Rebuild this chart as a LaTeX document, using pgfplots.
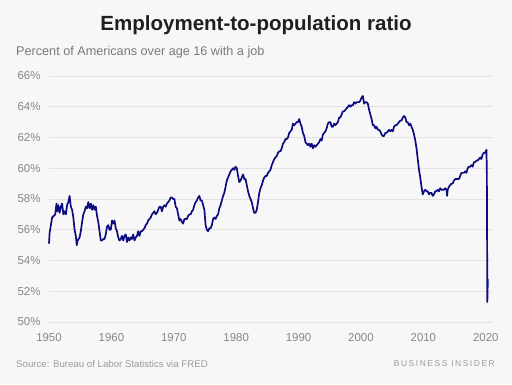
\documentclass[border=0pt]{standalone}
\usepackage{fontspec}
\setmainfont{Liberation Sans}
\usepackage{pgfplots}
\pgfplotsset{compat=1.18}
\definecolor{bg}{HTML}{F7F7F7}
\definecolor{navy}{HTML}{0C0C80}
\definecolor{gridc}{HTML}{E3E3E3}
\definecolor{tickc}{HTML}{878787}
\definecolor{subc}{HTML}{7A7A7A}
\definecolor{srcc}{HTML}{9A9A9A}
\begin{document}
\begin{tikzpicture}[x=1bp,y=1bp]
\fill[bg] (0,0) rectangle (512,384);
\useasboundingbox (0,0) rectangle (512,384);
\node[font=\bfseries\fontsize{20.6}{24}\selectfont, color=black!88] at (256,359) {Employment-to-population ratio};
\node[anchor=west, font=\fontsize{12.7}{15}\selectfont, color=subc, inner sep=0] at (16,332) {Percent of Americans over age 16 with a job};
\node[anchor=west, font=\fontsize{9.7}{12}\selectfont, color=srcc, inner sep=0] at (16,20) {Source: Bureau of Labor Statistics via FRED};
\node[anchor=east, font=\fontsize{8.5}{10}\selectfont\addfontfeatures{LetterSpace=18}, color=srcc, inner sep=0] at (495,20) {BUSINESS INSIDER};
\begin{axis}[at={(49bp,62bp)}, anchor=south west, scale only axis,
  width=443bp, height=246bp,
  xmin=1950, xmax=2021, ymin=50, ymax=66,
  axis line style={draw=none},
  major tick length=0pt,
  xtick={1950,1960,...,2020},
  ytick={50,52,...,66},
  ymajorgrids, grid style={gridc, line width=0.8bp},
  yticklabel={\pgfmathprintnumber{\tick}\%},
  tick label style={font=\fontsize{11.5}{13}\selectfont, color=tickc},
  xticklabel style={yshift=-8bp},
  yticklabel style={xshift=-5bp},
  /pgf/number format/1000 sep={},
  /pgf/number format/assume math mode=true,
  clip=false]
\addplot[navy, line width=1.7bp, line join=round] coordinates {
(1950.0,55.1)(1950.1,55.8)(1950.3,56.3)(1950.5,56.8)(1950.75,56.9)
(1951.0,57.0)(1951.2,57.7)(1951.35,57.2)(1951.5,57.6)(1951.7,57.1)(1951.9,57.5)
(1952.1,57.7)(1952.3,57.0)(1952.5,57.2)(1952.7,57.0)(1952.9,57.6)
(1953.1,57.8)(1953.3,58.2)(1953.5,57.5)(1953.7,57.3)(1953.9,56.8)
(1954.1,56.0)(1954.3,55.6)(1954.45,55.0)(1954.6,55.3)(1954.9,55.5)
(1955.1,55.9)(1955.3,56.5)(1955.5,57.0)(1955.7,57.2)(1955.9,57.5)
(1956.1,57.4)(1956.3,57.8)(1956.5,57.4)(1956.7,57.7)(1956.9,57.3)
(1957.1,57.6)(1957.3,57.3)(1957.5,57.5)(1957.7,56.9)(1957.9,56.5)
(1958.1,55.9)(1958.3,55.3)(1958.5,55.3)(1958.7,55.4)(1958.9,55.4)
(1959.1,55.7)(1959.3,56.2)(1959.5,56.3)(1959.7,56.0)(1959.9,56.0)
(1960.1,56.6)(1960.3,56.4)(1960.5,56.6)(1960.7,56.1)(1960.9,55.9)
(1961.1,55.5)(1961.3,55.3)(1961.5,55.4)(1961.7,55.6)(1961.9,55.3)
(1962.1,55.6)(1962.3,55.7)(1962.5,55.2)(1962.7,55.5)(1962.9,55.3)
(1963.1,55.5)(1963.3,55.4)(1963.5,55.7)(1963.7,55.3)(1963.9,55.5)
(1964.1,55.6)(1964.3,55.9)(1964.5,55.6)(1964.7,55.9)(1964.9,55.9)
(1965.1,56.0)(1965.3,56.1)(1965.5,56.3)(1965.7,56.4)(1965.9,56.6)
(1966.1,56.7)(1966.3,56.8)(1966.5,57.0)(1966.7,57.1)(1966.9,57.2)
(1967.1,57.0)(1967.3,57.1)(1967.5,57.3)(1967.7,57.5)(1967.9,57.5)
(1968.1,57.2)(1968.3,57.5)(1968.5,57.6)(1968.7,57.5)(1968.9,57.7)
(1969.1,57.8)(1969.3,57.9)(1969.5,58.1)(1969.7,58.1)(1969.9,58.0)
(1970.1,58.0)(1970.3,57.5)(1970.5,57.4)(1970.7,57.0)(1970.9,56.6)
(1971.1,56.7)(1971.3,56.5)(1971.5,56.4)(1971.7,56.7)(1971.9,56.7)
(1972.1,56.7)(1972.3,56.9)(1972.5,57.0)(1972.7,57.0)(1972.9,57.2)
(1973.1,57.3)(1973.3,57.6)(1973.5,57.8)(1973.7,57.9)(1973.9,58.1)
(1974.1,58.2)(1974.3,57.9)(1974.5,57.9)(1974.7,57.6)(1974.9,57.3)
(1975.1,56.3)(1975.3,56.0)(1975.5,55.9)(1975.7,56.1)(1975.9,56.1)
(1976.1,56.3)(1976.3,56.7)(1976.5,56.8)(1976.7,56.7)(1976.9,56.9)
(1977.1,57.0)(1977.3,57.4)(1977.5,57.6)(1977.7,57.9)(1977.9,58.2)
(1978.1,58.4)(1978.3,58.8)(1978.5,59.2)(1978.7,59.4)(1978.9,59.6)
(1979.1,59.8)(1979.3,59.9)(1979.5,60.0)(1979.7,59.9)(1979.9,60.1)
(1980.1,60.0)(1980.3,59.5)(1980.5,59.1)(1980.7,59.2)(1980.9,59.4)
(1981.1,59.6)(1981.3,59.3)(1981.5,59.3)(1981.7,58.9)(1981.9,58.5)
(1982.1,58.2)(1982.3,58.0)(1982.5,57.8)(1982.7,57.4)(1982.9,57.1)
(1983.1,57.1)(1983.3,57.3)(1983.5,57.8)(1983.7,58.4)(1983.9,58.7)
(1984.1,58.9)(1984.3,59.2)(1984.5,59.4)(1984.7,59.5)(1984.9,59.5)
(1985.1,59.7)(1985.3,59.8)(1985.5,59.9)(1985.7,60.2)(1985.9,60.4)
(1986.1,60.6)(1986.3,60.7)(1986.5,60.8)(1986.7,61.0)(1986.9,61.1)
(1987.1,61.1)(1987.3,61.3)(1987.5,61.6)(1987.7,61.7)(1987.9,61.9)
(1988.1,61.9)(1988.3,62.0)(1988.5,62.3)(1988.7,62.4)(1988.9,62.5)
(1989.1,62.9)(1989.3,62.8)(1989.5,62.9)(1989.7,63.0)(1989.9,63.0)
(1990.1,63.2)(1990.3,62.9)(1990.5,62.7)(1990.7,62.3)(1990.9,62.1)
(1991.1,61.7)(1991.3,61.6)(1991.5,61.5)(1991.7,61.6)(1991.9,61.4)
(1992.1,61.6)(1992.3,61.3)(1992.5,61.5)(1992.7,61.4)(1992.9,61.5)
(1993.1,61.6)(1993.3,61.7)(1993.5,61.9)(1993.7,61.8)(1993.9,62.2)
(1994.1,62.3)(1994.3,62.4)(1994.5,62.6)(1994.7,62.9)(1994.9,63.0)
(1995.1,63.0)(1995.3,62.7)(1995.5,62.7)(1995.7,62.9)(1995.9,62.8)
(1996.1,62.9)(1996.3,63.0)(1996.5,63.3)(1996.7,63.3)(1996.9,63.5)
(1997.1,63.7)(1997.3,63.7)(1997.5,63.8)(1997.7,63.9)(1997.9,64.0)
(1998.1,64.1)(1998.3,64.0)(1998.5,64.1)(1998.7,64.1)(1998.9,64.3)
(1999.1,64.2)(1999.3,64.3)(1999.5,64.3)(1999.7,64.3)(1999.9,64.4)
(2000.1,64.6)(2000.3,64.7)(2000.5,64.2)(2000.7,64.3)(2000.9,64.3)
(2001.1,64.2)(2001.3,63.8)(2001.5,63.5)(2001.7,63.2)(2001.9,62.8)
(2002.1,62.8)(2002.3,62.6)(2002.5,62.7)(2002.7,62.5)(2002.9,62.5)
(2003.1,62.4)(2003.3,62.2)(2003.5,62.1)(2003.7,62.1)(2003.9,62.3)
(2004.1,62.3)(2004.3,62.4)(2004.5,62.5)(2004.7,62.4)(2004.9,62.5)
(2005.1,62.4)(2005.3,62.7)(2005.5,62.8)(2005.7,62.8)(2005.9,62.9)
(2006.1,63.0)(2006.3,63.1)(2006.5,63.1)(2006.7,63.3)(2006.9,63.4)
(2007.1,63.3)(2007.3,63.0)(2007.5,63.0)(2007.7,62.8)(2007.9,62.9)
(2008.1,62.7)(2008.3,62.5)(2008.5,62.2)(2008.7,61.8)(2008.9,61.3)
(2009.1,60.6)(2009.3,59.9)(2009.5,59.4)(2009.7,58.8)(2009.9,58.3)
(2010.1,58.5)(2010.3,58.6)(2010.5,58.5)(2010.7,58.5)(2010.9,58.3)
(2011.1,58.4)(2011.3,58.4)(2011.5,58.2)(2011.7,58.3)(2011.9,58.5)
(2012.1,58.5)(2012.3,58.6)(2012.5,58.5)(2012.7,58.7)(2012.9,58.6)
(2013.1,58.6)(2013.3,58.6)(2013.5,58.7)(2013.7,58.6)(2013.8,58.2)(2013.9,58.6)
(2014.1,58.8)(2014.3,58.9)(2014.5,59.0)(2014.7,59.0)(2014.9,59.2)
(2015.1,59.3)(2015.3,59.3)(2015.5,59.3)(2015.7,59.3)(2015.9,59.5)
(2016.1,59.7)(2016.3,59.7)(2016.5,59.7)(2016.7,59.8)(2016.9,59.7)
(2017.1,60.0)(2017.3,60.1)(2017.5,60.1)(2017.7,60.2)(2017.9,60.1)
(2018.1,60.4)(2018.3,60.4)(2018.5,60.5)(2018.7,60.5)(2018.9,60.6)
(2019.1,60.7)(2019.3,60.6)(2019.5,60.9)(2019.7,61.0)(2019.9,61.0)
(2020.0,61.1)(2020.1,61.2)(2020.17,60.0)(2020.25,51.3)(2020.33,52.8)
};
\end{axis}
\end{tikzpicture}
\end{document}
